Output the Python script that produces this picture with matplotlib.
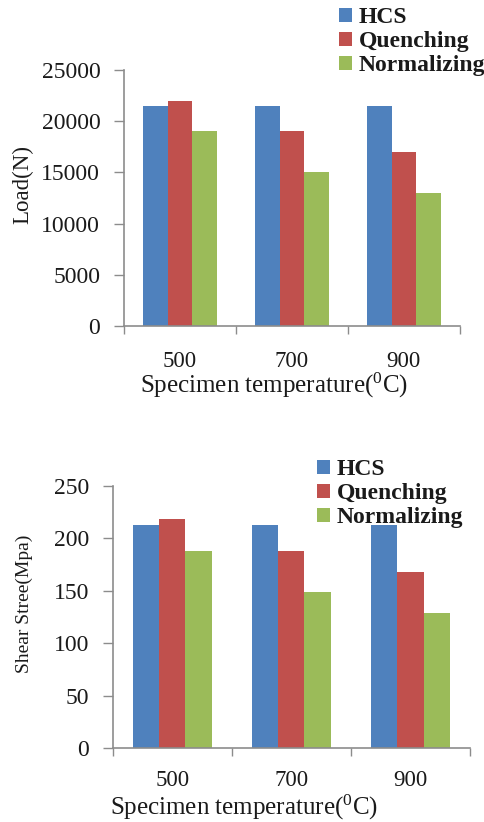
import matplotlib
matplotlib.use("Agg")
import matplotlib.pyplot as plt
import numpy as np

plt.rcParams['font.family'] = ['Liberation Serif', 'DejaVu Serif']
plt.rcParams['mathtext.fontset'] = 'custom'
plt.rcParams['mathtext.rm'] = 'Liberation Serif'
plt.rcParams['mathtext.it'] = 'Liberation Serif'

categories = ['500', '700', '900']
series_names = ['HCS', 'Quenching', 'Normalizing']
load_hcs = [21500, 21500, 21500]
load_quench = [22000, 19000, 17000]
load_norm = [19000, 15000, 13000]
shear_hcs = [213, 213, 213]
shear_quench = [218, 188, 168]
shear_norm = [188, 149, 129]
load_ticks = [0, 5000, 10000, 15000, 20000, 25000]
shear_ticks = [0, 50, 100, 150, 200, 250]

colors = ['#4F81BD', '#C0504D', '#9BBB59']
axis_color = '#8C8C8C'
text_color = '#1a1a1a'

fig = plt.figure(figsize=(4.84, 8.22), dpi=100)

def draw(ax, data, ticks, ylabel, legend_anchor, xpad, ylab_size, ylab_xy, xlab_xy):
    x = np.arange(len(categories))
    w = 0.22
    handles = []
    for i, (vals, c, name) in enumerate(zip(data, colors, series_names)):
        h = ax.bar(x + (i - 1) * w, vals, width=w, color=c, label=name, zorder=2)
        handles.append(h)
    ax.set_xlim(-0.5, len(categories) - 0.5)
    ax.set_ylim(ticks[0], ticks[-1])
    ax.set_yticks(ticks)
    ax.set_yticklabels([str(t) for t in ticks], fontsize=17, color=text_color)
    ax.set_xticks(x)
    ax.set_xticklabels(categories, fontsize=16.5, color=text_color)
    ax.tick_params(axis='x', which='major', length=0, pad=xpad)
    ax.set_xticks(np.arange(len(categories) + 1) - 0.5, minor=True)
    ax.tick_params(axis='x', which='minor', length=6, width=1, color=axis_color, direction='out')
    ax.tick_params(axis='y', length=7, width=1, color=axis_color, direction='out', pad=10)
    for s in ['top', 'right']:
        ax.spines[s].set_visible(False)
    for s in ['left', 'bottom']:
        ax.spines[s].set_color(axis_color)
        ax.spines[s].set_linewidth(1.2)
    ax.set_ylabel(ylabel, fontsize=ylab_size, color=text_color)
    ax.yaxis.set_label_coords(*ylab_xy)
    ax.set_xlabel(r'Specimen temperature($\mathregular{^0}$C)', fontsize=18, color=text_color)
    ax.xaxis.set_label_coords(*xlab_xy)
    leg = fig.legend(handles=handles, labels=series_names, loc='upper left',
                     bbox_to_anchor=legend_anchor, frameon=False, fontsize=17,
                     handlelength=0.55, handleheight=0.55, handletextpad=0.3,
                     labelspacing=0.12, borderpad=0, borderaxespad=0)
    for t in leg.get_texts():
        t.set_fontweight('bold')
        t.set_color(text_color)

ax1 = fig.add_axes([0.256, 0.6034, 0.694, 0.3114])
draw(ax1, [load_hcs, load_quench, load_norm], load_ticks, 'Load(N)', (0.700, 0.991),
     18, 16.5, (-0.271, 0.551), (0.446, -0.177))

ax2 = fig.add_axes([0.2328, 0.0897, 0.7382, 0.3194])
draw(ax2, [shear_hcs, shear_quench, shear_norm], shear_ticks, 'Shear Stree(Mpa)', (0.655, 0.441),
     16, 14, (-0.223, 0.55), (0.367, -0.17))

fig.savefig('out.png', dpi=100)
